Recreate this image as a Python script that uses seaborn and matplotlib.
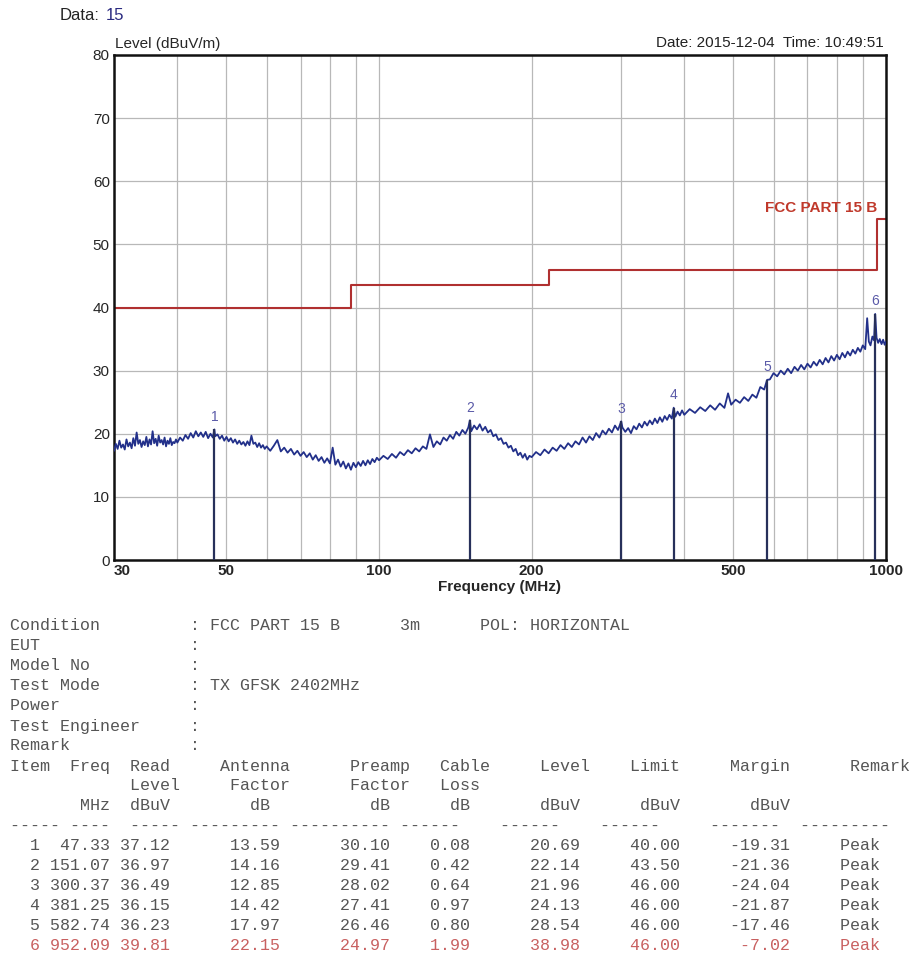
import numpy as np
import pandas as pd
import matplotlib
matplotlib.use("Agg")
import matplotlib.pyplot as plt
import seaborn as sns

# ---- data ----
freq_mhz = [
    30.0, 30.25, 30.5, 30.75, 31.0, 31.25, 31.5, 31.75, 32.0, 32.25,
    32.5, 32.75, 33.0, 33.25, 33.5, 33.75, 34.0, 34.25, 34.5, 34.75,
    35.0, 35.25, 35.5, 35.75, 36.0, 36.25, 36.5, 36.75, 37.0, 37.25,
    37.5, 37.75, 38.0, 38.25, 38.5, 38.75, 39.0, 39.25, 39.5, 39.75,
    40, 40.5, 41, 41.5, 42, 42.5, 43, 43.5, 44, 44.5, 45, 45.5, 46, 46.5, 47, 47.33, 47.5,
    48, 48.5, 49, 49.5, 50, 50.5, 51, 51.5, 52, 52.5, 53, 53.5, 54, 54.5, 55, 55.5,
    56, 56.5, 57, 57.5, 58, 58.5, 59, 59.5,
    60, 61, 62, 63, 64, 65, 66, 67, 68, 69, 70, 71, 72, 73, 74, 75, 76, 77, 78, 79,
    80, 81, 82, 83, 84, 85, 86, 87, 88, 89, 90, 91, 92, 93, 94, 95, 96, 97, 98, 99,
    100, 102, 104, 106, 108, 110, 112, 114, 116, 118, 120, 122, 124, 126, 128, 130,
    132, 134, 136, 138, 140, 142, 144, 146, 148, 150, 151.07, 152, 154, 156, 158, 160,
    162, 164, 166, 168, 170, 172, 174, 176, 178, 180, 182, 184, 186, 188, 190, 192, 194, 196, 198,
    200, 204, 208, 212, 216, 220, 224, 228, 232, 236, 240, 244, 248, 252, 256, 260,
    264, 268, 272, 276, 280, 284, 288, 292, 296, 300.37, 302, 306, 310, 314, 318, 322,
    326, 330, 334, 338, 342, 346, 350, 354, 358, 362, 366, 370, 374, 378, 381.25, 384,
    388, 392, 396,
    400, 410, 420, 430, 440, 450, 460, 470, 480, 488, 495, 505, 515, 525, 535, 545,
    555, 565, 575, 582.74, 590, 600, 610, 620, 630, 640, 650, 660, 670, 680, 690, 700,
    710, 720, 730, 740, 750, 760, 770, 780, 790, 800, 810, 820, 830, 840, 850, 860,
    870, 880, 890, 900, 910, 918, 925, 932, 940, 947, 952.09, 958, 965, 972, 980, 987,
    994, 1000,
]
level_dbuv = [
    17.3, 18.4, 17.6, 18.9, 17.8, 18.3, 17.5, 19.1, 18.0, 18.6,
    17.7, 19.3, 18.1, 20.2, 18.4, 19.0, 17.9, 18.8, 18.2, 19.5,
    18.0, 19.1, 18.3, 20.4, 18.5, 19.2, 18.1, 19.7, 18.6, 19.0,
    18.3, 19.4, 18.0, 18.9, 18.4, 19.3, 18.2, 18.7, 18.5, 19.1,
    18.6, 19.4, 18.9, 19.8, 19.2, 20.1, 19.4, 20.4, 19.6, 20.2, 19.5, 20.3, 19.3, 20.0, 19.4, 20.69, 19.6,
    19.9, 19.2, 19.7, 18.9, 19.5, 18.8, 19.3, 18.6, 19.1, 18.4, 18.9, 18.3, 18.7, 18.1, 18.8, 18.2,
    19.7, 18.4, 18.6, 17.9, 18.5, 17.8, 18.2, 17.6,
    18.0, 17.3, 18.1, 19.0, 17.2, 17.8, 17.0, 17.6, 16.7, 17.3, 16.5, 17.1, 16.3, 16.9, 15.9, 16.6, 15.7, 16.3, 15.4, 16.1,
    15.3, 17.8, 15.1, 15.9, 14.8, 15.6, 14.5, 15.3, 14.3, 15.4, 14.7, 15.5, 14.9, 15.7, 15.0, 15.8, 15.2, 16.0, 15.5, 16.2,
    15.8, 16.5, 16.0, 16.8, 16.2, 17.1, 16.6, 17.4, 16.9, 17.7, 17.2, 18.0, 17.6, 19.9, 17.9, 18.8,
    18.3, 19.4, 18.9, 19.8, 19.2, 20.3, 19.7, 20.6, 20.0, 21.0, 22.14, 20.4, 21.3, 20.7, 21.5, 20.5,
    21.1, 20.2, 20.6, 19.6, 19.9, 19.0, 19.3, 18.4, 18.6, 17.8, 18.1, 17.2, 17.6, 16.6, 17.0, 16.2, 16.8, 15.9, 16.5,
    16.3, 17.1, 16.6, 17.5, 16.9, 17.8, 17.3, 18.2, 17.6, 18.5, 17.9, 18.8, 18.3, 19.4, 18.6, 19.6,
    19.0, 20.1, 19.4, 20.5, 19.9, 20.8, 20.2, 21.3, 20.6, 21.96, 21.0, 20.3, 20.9, 20.1, 21.2, 20.7,
    21.6, 21.0, 21.9, 21.3, 22.1, 21.5, 22.4, 21.7, 22.6, 21.9, 22.8, 22.2, 23.0, 22.4, 24.13, 22.7,
    23.5, 22.9, 23.7,
    23.0, 23.9, 23.3, 24.2, 23.6, 24.5, 23.8, 24.8, 24.1, 26.4, 24.6, 25.4, 24.9, 25.8, 25.2, 26.2,
    25.7, 27.4, 27.0, 28.54, 28.6, 29.6, 29.1, 30.0, 29.4, 30.3, 29.6, 30.6, 30.0, 30.9, 30.2, 31.1,
    30.5, 31.4, 30.8, 31.7, 31.0, 32.0, 31.3, 32.3, 31.6, 32.5, 31.8, 32.8, 32.1, 33.0, 32.4, 33.3,
    32.7, 33.6, 33.0, 34.0, 33.4, 38.3, 34.6, 34.0, 35.4, 34.8, 38.98, 35.2, 34.4, 35.0, 34.2, 34.9,
    34.1, 34.6,
]

limit_freq = [30, 88, 216, 960, 1000]
limit_level = [40.0, 43.5, 46.0, 54.0, 54.0]

peak_item = [1, 2, 3, 4, 5, 6]
peak_freq = [47.33, 151.07, 300.37, 381.25, 582.74, 952.09]
peak_read = [37.12, 36.97, 36.49, 36.15, 36.23, 39.81]
peak_ant = [13.59, 14.16, 12.85, 14.42, 17.97, 22.15]
peak_pre = [30.10, 29.41, 28.02, 27.41, 26.46, 24.97]
peak_cable = [0.08, 0.42, 0.64, 0.97, 0.80, 1.99]
peak_level = [20.69, 22.14, 21.96, 24.13, 28.54, 38.98]
peak_limit = [40.00, 43.50, 46.00, 46.00, 46.00, 46.00]
peak_margin = [-19.31, -21.36, -24.04, -21.87, -17.46, -7.02]
peak_remark = ["Peak", "Peak", "Peak", "Peak", "Peak", "Peak"]

grid_freq = [30, 40, 50, 60, 70, 80, 90, 100, 200, 300, 400, 500, 600, 700, 800, 900, 1000]
grid_label = ["30", "", "50", "", "", "", "", "100", "200", "", "", "500", "", "", "", "", "1000"]
y_ticks = [0, 10, 20, 30, 40, 50, 60, 70, 80]

sns.set_style("white")
plt.rcParams["font.family"] = ["Liberation Sans", "DejaVu Sans"]

W, H = 911, 960
fig = plt.figure(figsize=(W / 100, H / 100), dpi=100)
ax = fig.add_axes([114 / W, 1 - 560 / H, 772 / W, 505 / H])

trace = pd.DataFrame({"freq": freq_mhz, "level": level_dbuv})
sns.lineplot(data=trace, x="freq", y="level", ax=ax, color="#22308a",
             lw=1.3, estimator=None, sort=False, zorder=3)
sns.lineplot(x=limit_freq, y=limit_level, ax=ax, color="#b03030", lw=1.5,
             drawstyle="steps-post", zorder=2)

ax.vlines(peak_freq, 0, peak_level, color="#27305a", lw=1.6, zorder=4)
for i, f, lv in zip(peak_item, peak_freq, peak_level):
    ax.text(f, lv + 2.0, str(i), ha="center", va="center", fontsize=10, color="#5a5aa8")

ax.text(960, 55.8, "FCC PART 15 B", ha="right", va="center", fontsize=11,
        color="#c0392b", fontweight="bold")

ax.set_xscale("log")
ax.set_xlim(30, 1000)
ax.set_ylim(0, 80)
ax.set_xticks(grid_freq)
ax.set_xticklabels(grid_label, fontsize=11, fontweight="bold")
ax.xaxis.set_minor_locator(matplotlib.ticker.NullLocator())
ax.set_yticks(y_ticks)
ax.set_yticklabels([str(v) for v in y_ticks], fontsize=11)
ax.get_xticklabels()[0].set_horizontalalignment("left")
ax.tick_params(length=0, pad=3)
ax.grid(True, color="#b8b8b8", lw=0.9)
ax.set_axisbelow(True)
for s in ax.spines.values():
    s.set_visible(True)
    s.set_color("#111111")
    s.set_linewidth(1.8)
ax.set_xlabel("Frequency (MHz)", fontsize=11, fontweight="bold", labelpad=1)
ax.set_ylabel("")

fig.text(60 / W, 1 - 15 / H, "Data:", fontsize=12, color="#222222", va="center")
fig.text(106 / W, 1 - 15 / H, "15", fontsize=12, color="#2a2a80", va="center")
fig.text(115 / W, 1 - 44 / H, "Level (dBuV/m)", fontsize=11, va="center")
fig.text(884 / W, 1 - 43 / H, "Date: 2015-12-04  Time: 10:49:51", fontsize=11,
         ha="right", va="center", color="#222222")


# ---- text table under the chart ----
def place(pairs):
    row = [" "] * 95
    for col, word in pairs:
        row[col:col + len(word)] = list(word)
    return "".join(row).rstrip()


lines = [
    place([(0, "Condition"), (18, ":"), (20, "FCC PART 15 B"), (39, "3m"), (47, "POL: HORIZONTAL")]),
    place([(0, "EUT"), (18, ":")]),
    place([(0, "Model No"), (18, ":")]),
    place([(0, "Test Mode"), (18, ":"), (20, "TX GFSK 2402MHz")]),
    place([(0, "Power"), (18, ":")]),
    place([(0, "Test Engineer"), (18, ":")]),
    place([(0, "Remark"), (18, ":")]),
    place([(0, "Item"), (6, "Freq"), (12, "Read"), (21, "Antenna"), (34, "Preamp"),
           (43, "Cable"), (53, "Level"), (62, "Limit"), (72, "Margin"), (84, "Remark")]),
    place([(12, "Level"), (22, "Factor"), (34, "Factor"), (43, "Loss")]),
    place([(7, "MHz"), (12, "dBuV"), (24, "dB"), (36, "dB"), (44, "dB"),
           (53, "dBuV"), (63, "dBuV"), (74, "dBuV")]),
    place([(0, "-----"), (6, "----"), (12, "-----"), (18, "---------"), (28, "----------"),
           (39, "------"), (49, "------"), (59, "------"), (70, "-------"), (79, "---------")]),
]
fmt = "{:3d} {:6.2f} {:5.2f}{:11.2f}{:11.2f}{:8.2f}{:11.2f}{:10.2f}{:11.2f}{:>9s}"
colors = ["#555555"] * len(lines)
for k in range(len(peak_item)):
    lines.append(fmt.format(peak_item[k], peak_freq[k], peak_read[k], peak_ant[k],
                            peak_pre[k], peak_cable[k], peak_level[k], peak_limit[k],
                            peak_margin[k], peak_remark[k]))
    colors.append("#c86060" if peak_margin[k] > -10 else "#555555")

for i, (txt, c) in enumerate(zip(lines, colors)):
    fig.text(10 / W, 1 - (626 + 20 * i) / H, txt, family="Liberation Mono",
             fontsize=12, color=c, ha="left", va="center")

fig.savefig("out.png", dpi=100)
